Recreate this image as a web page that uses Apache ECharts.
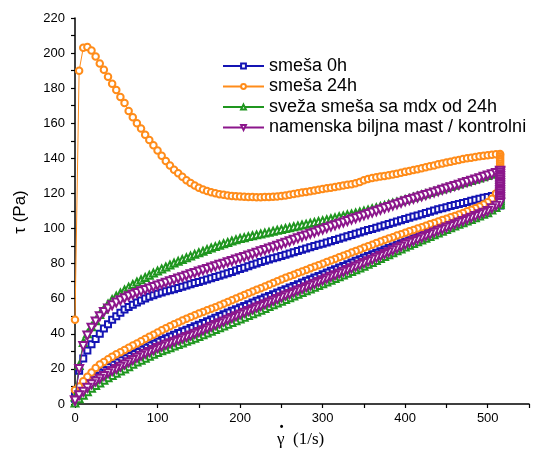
<!DOCTYPE html>
<html><head><meta charset="utf-8">
<script src="https://cdn.jsdelivr.net/npm/echarts@6/dist/echarts.min.js"></script>
<style>html,body{margin:0;padding:0;background:#fff}#c{width:541px;height:461px}</style>
</head><body><div id="c"></div>
<script>
// shear rate grid (1/s)
const shearRate = [
0,5,10,15,20,25,30,35,40,45,50,55,60,65,70,75,80,85,90,95,100,
105,110,115,120,125,130,135,140,145,150,155,160,165,170,175,180,185,190,195,200,
205,210,215,220,225,230,235,240,245,250,255,260,265,270,275,280,285,290,295,300,
305,310,315,320,325,330,335,340,345,350,355,360,365,370,375,380,385,390,395,400,
405,410,415,420,425,430,435,440,445,450,455,460,465,470,475,480,485,490,495,500,
505,510,515];

// smeša 0h
const up0h = [
5,19,26,30.5,34,37,40,43,45.5,48,50,52,53.8,55.3,56.6,57.8,59,60.1,61.1,62,62.9,
63.5,64.2,64.8,65.4,66.1,66.8,67.5,68.2,68.9,69.6,70.3,71,71.7,72.4,73.1,73.8,74.5,75.3,76.1,76.9,
77.7,78.5,79.3,80.1,80.9,81.6,82.3,83,83.7,84.4,85.1,85.8,86.5,87.2,87.9,88.6,89.3,90,90.7,91.4,
92.1,92.8,93.5,94.2,94.9,95.6,96.3,97,97.7,98.4,99.1,99.8,100.5,101.2,101.9,102.6,103.3,104,104.7,105.4,
106.1,106.8,107.5,108.2,108.9,109.6,110.3,111,111.6,112.2,112.8,113.4,114,114.6,115.2,115.8,116.4,117,117.5,118,
118.5,119,119.5];
const hold0h = [119,118,117,116,115,114.5,114];
const down0h = [
3,6.5,9.5,12,14,16,17.8,19.4,20.9,22.3,23.6,24.9,26.1,27.3,28.5,29.7,30.9,32.1,33.3,34.4,35.5,
36.5,37.5,38.5,39.5,40.5,41.4,42.3,43.3,44.3,45.2,46.2,47.2,48.2,49.2,50.2,51.1,52.1,53.1,54,55,
55.9,56.9,57.8,58.8,59.7,60.7,61.6,62.6,63.5,64.5,65.4,66.4,67.3,68.3,69.2,70.2,71.1,72.1,73,74,
74.9,75.9,76.8,77.8,78.7,79.7,80.6,81.6,82.5,83.5,84.4,85.3,86.2,87.1,88,88.9,89.8,90.7,91.6,92.5,
93.4,94.3,95.2,96.1,97,97.9,98.8,99.7,100.6,101.5,102.4,103.3,104.2,105.1,106,106.9,107.8,108.7,109.6,110.5,
111.4,112.3,113.2];

// smeša 24h
const up24h = [
48,190,203,203.5,201.5,198,194,190.5,186.5,182.5,179,175,171.5,167,163.5,160,157,153.5,150.5,147.5,144.5,
141.5,138.5,136,133.5,131.5,129.5,127.5,126,124.5,123.2,122.2,121.4,120.7,120.1,119.6,119.2,118.9,118.6,118.4,118.2,
118.1,118,118,117.9,117.9,118,118,118.1,118.3,118.6,118.9,119.3,119.7,120.1,120.5,120.9,121.3,121.7,122.1,122.5,
122.9,123.3,123.7,124.1,124.5,124.9,125.3,125.8,126.5,127.5,128.3,128.8,129.2,129.6,130,130.4,130.8,131.3,131.8,132.3,
132.8,133.3,133.8,134.4,135,135.5,136,136.6,137.1,137.6,138.1,138.6,139.1,139.6,140,140.4,140.8,141.2,141.5,141.8,
142.1,142.3,142.5];
const hold24h = [142,141,140,139,138,137,136,135,134,133,132,131];
const down24h = [
8,10,13,15.5,18,20.5,22.5,24,25.5,27,28.3,29.5,30.8,32,33.3,34.5,35.8,37,38.3,39.5,40.8,
42,43.2,44.3,45.4,46.5,47.6,48.6,49.6,50.6,51.6,52.5,53.4,54.3,55.2,56.1,57.1,58.1,59.1,60.1,61.1,
62.1,63.1,64.1,65.1,66,67,68,69,70,71,71.9,72.8,73.7,74.6,75.5,76.4,77.3,78.2,79.1,80,
80.9,81.8,82.7,83.6,84.5,85.4,86.3,87.2,88.1,89,89.9,90.8,91.7,92.6,93.5,94.3,95.1,96,96.8,97.6,
98.4,99.2,100,100.8,101.6,102.4,103.2,104,104.8,105.6,106.4,107.2,108,108.9,109.8,110.7,111.6,112.6,113.7,115,
117,120,125];

// sveža smeša sa mdx od 24h
const upMdx = [
4,22,35,40,44,47.5,51,54,57,59.5,61.5,63.3,65,66.6,68.1,69.5,70.8,72.1,73.4,74.6,75.8,
77,78.1,79.2,80.3,81.3,82.3,83.3,84.3,85.3,86.2,87.1,88,88.9,89.7,90.5,91.3,92.1,92.9,93.6,94.3,
94.8,95.4,95.9,96.4,96.9,97.4,97.9,98.5,99,99.5,100,100.5,101,101.5,102,102.5,103,103.5,104,104.5,
105,105.6,106.1,106.7,107.2,107.8,108.3,108.9,109.4,110,110.6,111.3,111.9,112.6,113.2,113.9,114.5,115.2,115.8,116.5,
117.2,117.8,118.5,119.2,119.9,120.5,121.2,121.9,122.6,123.3,124,124.7,125.4,126.1,126.7,127.4,128.1,128.8,129.5,130.2,
130.9,131.6,132.3];
const holdMdx = [132,131,130,129,128,127,126,125,124,123,122,121,120,119,118,117,116,115,114];
const downMdx = [
0.5,3,5,7,9,10.5,12,13.5,15,16.3,17.5,18.8,20,21.3,22.6,23.9,25,26.1,27.2,28.3,29.4,
30.3,31.2,32.1,33,33.9,34.8,35.7,36.6,37.5,38.5,39.5,40.5,41.5,42.5,43.5,44.5,45.5,46.5,47.5,48.5,
49.5,50.5,51.5,52.5,53.5,54.5,55.5,56.5,57.5,58.5,59.5,60.5,61.5,62.5,63.5,64.5,65.5,66.5,67.5,68.5,
69.5,70.5,71.5,72.5,73.5,74.5,75.5,76.5,77.5,78.5,79.6,80.7,81.8,82.9,84,85.1,86.2,87.3,88.4,89.5,
90.5,91.5,92.5,93.5,94.5,95.5,96.5,97.5,98.5,99.5,100.5,101.4,102.4,103.3,104.3,105.2,106.2,107.1,108.1,109,
110.5,112,113.5];

// namenska biljna mast / kontrolni
const upCtrl = [
2,20,33,39,43.5,47,50,52.5,54.5,56.3,57.8,59.1,60.3,61.4,62.4,63.3,64.2,65,65.9,66.7,67.5,
68.3,69.1,69.9,70.7,71.5,72.3,73.1,73.9,74.7,75.5,76.3,77,77.8,78.5,79.3,80,80.8,81.5,82.3,83,
83.8,84.6,85.4,86.2,87,87.8,88.6,89.4,90.2,91,91.9,92.7,93.6,94.4,95.3,96.1,97,97.8,98.7,99.5,
100.3,101.1,101.9,102.7,103.5,104.3,105.1,105.9,106.7,107.5,108.3,109.1,109.9,110.7,111.5,112.3,113.1,113.9,114.7,115.5,
116.2,117,117.7,118.4,119.1,119.9,120.6,121.3,122.1,122.8,123.5,124.3,125,125.8,126.5,127.3,128,128.7,129.5,130.2,
131,131.7,132.5];
const holdCtrl = [133,132,131,130,129,128,127,126,125,124,123,122,121,120,119,118,117,116,115];
const downCtrl = [
2,5,7,9.2,11.2,12.8,14.4,16,17.5,18.8,20,21.3,22.5,23.8,25.1,26.4,27.5,28.6,29.7,30.8,31.9,
32.8,33.7,34.6,35.5,36.4,37.3,38.2,39.1,40,41,42,43,44,45,46,47,48,49,50,51,
52,53,54,55,55.9,56.9,57.9,58.9,59.8,60.8,61.8,62.7,63.7,64.7,65.6,66.6,67.6,68.5,69.5,70.5,
71.5,72.5,73.4,74.4,75.4,76.4,77.3,78.3,79.3,80.3,81.3,82.3,83.4,84.4,85.5,86.5,87.6,88.7,89.8,90.9,
91.9,92.9,93.8,94.8,95.8,96.7,97.7,98.7,99.6,100.6,101.5,102.5,103.4,104.3,105.3,106.2,107.1,108.1,109,110,
111.5,113,114.5];

const seriesNames = ['smeša 0h','smeša 24h','sveža smeša sa mdx od 24h','namenska biljna mast / kontrolni'];
const xTicks = [0,100,200,300,400,500];
const yTicks = [0,20,40,60,80,100,120,140,160,180,200,220];

function loop(up, hold, down) {
  const pts = [];
  const n = Math.min(shearRate.length, up.length);
  for (let i = 0; i < n; i++) pts.push([shearRate[i], up[i]]);
  const xh = shearRate[shearRate.length - 1];
  hold.forEach(v => pts.push([xh, v]));
  for (let i = Math.min(shearRate.length, down.length) - 1; i >= 0; i--) pts.push([shearRate[i], down[i]]);
  return pts;
}

const colors = ['#1414b4', '#ff8c1a', '#1f961f', '#8c168c'];
const symbols = ['emptyRect', 'emptyCircle', 'emptyTriangle', 'emptyTriangle'];
const sizes = [6, 6.5, 7, 8];
const rot = [0, 0, 0, 180];
const datas = [loop(up0h, hold0h, down0h), loop(up24h, hold24h, down24h), loop(upMdx, holdMdx, downMdx), loop(upCtrl, holdCtrl, downCtrl)];

const FONT = '"Liberation Sans", Arial, sans-serif';
const SERIF = '"Liberation Serif", "Times New Roman", serif';
const chart = echarts.init(document.getElementById('c'));
chart.setOption({
  animation: false,
  backgroundColor: '#fff',
  grid: { left: 75, top: 18, bottom: 57, right: 12, containLabel: false },
  legend: {
    orient: 'vertical', left: 222, top: 57, padding: 0, itemWidth: 41, itemHeight: 6, itemGap: 2.5,
    textStyle: { fontSize: 18, fontFamily: FONT, color: '#000', lineHeight: 18 },
    data: seriesNames
  },
  xAxis: {
    type: 'value', min: 0, max: 550, interval: 50,
    axisLine: { lineStyle: { color: '#000', width: 1.5 } },
    axisTick: { length: 4, lineStyle: { color: '#000', width: 1.2 } },
    axisLabel: { color: '#000', fontSize: 13, fontFamily: FONT, margin: 8,
      formatter: v => xTicks.indexOf(v) >= 0 ? String(v) : '' },
    splitLine: { show: false }
  },
  yAxis: {
    type: 'value', min: 0, max: 220, interval: 10,
    axisLine: { show: true, lineStyle: { color: '#000', width: 1.5 } },
    axisTick: { show: true, length: 4, lineStyle: { color: '#000', width: 1.2 } },
    axisLabel: { color: '#000', fontSize: 13, fontFamily: FONT, margin: 10,
      formatter: v => yTicks.indexOf(v) >= 0 ? String(v) : '' },
    splitLine: { show: false }
  },
  graphic: [
    { type: 'text', x: 20, y: 212, rotation: Math.PI / 2,
      style: { text: 'τ (Pa)', font: '17px ' + FONT, fill: '#000', align: 'center', verticalAlign: 'middle', textAlign: 'center', textVerticalAlign: 'middle' } },
    { type: 'text', x: 277, y: 440,
      style: { text: 'γ  (1/s)', font: '17px ' + SERIF, fill: '#000', align: 'left', verticalAlign: 'middle', textAlign: 'left', textVerticalAlign: 'middle' } },
    { type: 'text', x: 281.5, y: 435,
      style: { text: '˙', font: 'bold 20px ' + SERIF, fill: '#000', align: 'center', verticalAlign: 'middle', textAlign: 'center', textVerticalAlign: 'middle' } }
  ],
  series: seriesNames.map((name, k) => ({
    name, type: 'line', data: datas[k],
    symbol: symbols[k], symbolSize: sizes[k], symbolRotate: rot[k], showAllSymbol: true,
    color: colors[k],
    lineStyle: { color: colors[k], width: 1 },
    itemStyle: { color: colors[k], borderColor: colors[k], borderWidth: 1 },
    z: 2 + k
  }))
});
</script></body></html>
